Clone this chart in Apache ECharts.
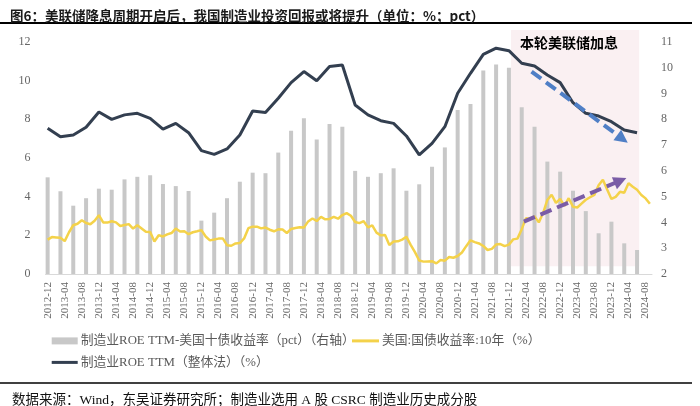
<!DOCTYPE html>
<html>
<head>
<meta charset="utf-8">
<script src="https://cdn.jsdelivr.net/npm/echarts@6/dist/echarts.min.js"></script>
<style>html,body{margin:0;padding:0;background:#fff;}#c{width:700px;height:406px;}</style>
</head>
<body>
<div id="c"></div>
<script>
// ---- data ----
const firstYear = 2012, firstMonth = 12, monthCount = 142; // 2012-12 .. 2024-09
const categories = [];
for (let i = 0; i < monthCount; i++) {
  const m = firstMonth - 1 + i;
  const y = firstYear + Math.floor(m / 12);
  const mm = (m % 12) + 1;
  categories.push(y + '-' + (mm < 10 ? '0' + mm : mm));
}
// quarterly (2012-12 .. 2024-06)
const roeSpread = [5.75,5.21,4.65,4.94,5.31,5.27,5.67,5.77,5.83,5.49,5.41,5.22,
  4.07,4.38,4.94,5.58,5.93,5.91,6.71,7.56,8.04,7.22,7.82,7.71,
  6.00,5.77,5.91,6.10,5.23,5.48,6.16,6.91,8.36,8.59,9.89,10.13,
  10.00,8.47,7.71,6.36,5.97,5.23,4.44,3.58,4.03,3.19,2.93];
const roe = [7.54,7.10,7.19,7.59,8.38,8.00,8.23,8.31,8.05,7.49,7.79,7.31,
  6.38,6.19,6.47,7.19,8.43,8.35,9.09,9.90,10.47,10.00,10.73,10.81,
  8.74,8.23,7.93,7.79,7.14,6.16,6.76,7.62,9.35,10.38,11.36,11.68,
  11.55,10.90,10.76,10.29,9.90,8.86,8.31,8.17,7.88,7.45,7.31];
// monthly (2012-12 .. 2024-09)
const ust10y = [1.78,
  1.91,1.89,1.87,1.70,2.16,2.52,2.60,2.78,2.64,2.57,2.75,3.04,
  2.67,2.66,2.73,2.67,2.48,2.53,2.58,2.35,2.52,2.35,2.18,2.17,
  1.68,2.00,1.94,2.05,2.12,2.35,2.20,2.21,2.06,2.16,2.21,2.27,
  1.94,1.74,1.78,1.83,1.84,1.49,1.46,1.58,1.60,1.84,2.37,2.45,
  2.45,2.36,2.40,2.29,2.21,2.31,2.30,2.12,2.33,2.38,2.42,2.40,
  2.72,2.87,2.74,2.95,2.83,2.85,2.96,2.86,3.05,3.15,3.01,2.69,
  2.63,2.73,2.41,2.51,2.14,2.00,2.02,1.50,1.68,1.69,1.78,1.92,
  1.51,1.13,0.70,0.64,0.65,0.66,0.55,0.72,0.69,0.88,0.84,0.93,
  1.11,1.44,1.74,1.65,1.58,1.45,1.24,1.30,1.52,1.55,1.44,1.52,
  1.79,1.83,2.32,2.89,2.85,2.98,2.67,3.15,3.83,4.10,3.68,3.88,
  3.52,3.92,3.48,3.44,3.64,3.84,3.97,4.09,4.59,4.88,4.37,3.88,
  3.99,4.25,4.20,4.69,4.51,4.36,4.09,3.91,3.63];
// annotation positions (month index / left-axis value)
const hikeStart = 108.5, hikeEnd = 138.5;
const roeArrow = [[113.3, 10.47], [134.6, 6.99]];
const yieldArrow = [[111.5, 2.71], [134.1, 4.83]];

const names = {
  bar: '制造业ROE TTM-美国十债收益率（pct）（右轴）',
  ust: '美国:国债收益率:10年（%）',
  roe: '制造业ROE TTM（整体法）（%）'
};

// map quarterly values to monthly slots
const barMonthly = categories.map(() => null);
const roeMonthly = categories.map(() => null);
roeSpread.forEach((v, q) => { barMonthly[q * 3] = v; });
roe.forEach((v, q) => { roeMonthly[q * 3] = v; });

const leftMax = 12.62;
const rightMax = 2 + leftMax * 0.75;
const serif = "'Liberation Serif','Noto Sans CJK SC'";
const cjk = "'Noto Sans CJK SC'";
const legendText = {fontSize: 12.8, color: '#595959', fontFamily: serif, padding: [0, 0, 0, -2]};

const chart = echarts.init(document.getElementById('c'), null, {renderer: 'canvas'});
chart.setOption({
  animation: false,
  backgroundColor: '#fff',
  title: [
    {text: '图6：美联储降息周期开启后，我国制造业投资回报或将提升（单位：%；pct）', left: 5, top: 4,
     textStyle: {fontSize: 13.5, fontWeight: 'bold', color: '#1a1a1a', fontFamily: cjk}},
    {text: '数据来源：Wind，东吴证券研究所；制造业选用 A 股 CSRC 制造业历史成分股', left: 7, top: 389,
     textStyle: {fontSize: 13.5, fontWeight: 'normal', color: '#111', fontFamily: serif}}
  ],
  graphic: [
    {type: 'line', shape: {x1: 0, y1: 23, x2: 692, y2: 23}, style: {stroke: '#000', lineWidth: 2}},
    {type: 'line', shape: {x1: 0, y1: 383, x2: 692, y2: 383}, style: {stroke: '#000', lineWidth: 1.5}}
  ],
  legend: [
    {data: [names.bar], left: 51.7, top: 334.5, padding: 0, icon: 'rect', itemWidth: 26, itemHeight: 7,
     textStyle: legendText},
    {data: [names.ust], left: 352, top: 334.5, padding: 0, icon: 'rect', itemWidth: 27, itemHeight: 3,
     textStyle: legendText},
    {data: [names.roe], left: 51.7, top: 356, padding: 0, icon: 'rect', itemWidth: 26, itemHeight: 3,
     textStyle: legendText}
  ],
  grid: {left: 45.5, right: 48, top: 30, bottom: 132},
  xAxis: [
    {type: 'category', data: categories, boundaryGap: true,
     axisLine: {lineStyle: {color: '#d9d9d9'}},
     axisTick: {interval: 3, length: 4, lineStyle: {color: '#d9d9d9'}},
     axisLabel: {interval: 3, rotate: 90, margin: 8, fontSize: 11, color: '#666', fontFamily: serif},
     splitLine: {show: false}},
    {type: 'value', min: -0.5, max: monthCount - 0.5, show: false}
  ],
  yAxis: [
    {type: 'value', min: 0, max: leftMax, interval: 2, splitLine: {show: false},
     axisLine: {show: false}, axisTick: {show: false},
     axisLabel: {showMaxLabel: false, margin: 15, fontSize: 12, color: '#666', fontFamily: serif}},
    {type: 'value', min: 2, max: rightMax, interval: 1, splitLine: {show: false},
     axisLine: {show: false}, axisTick: {show: false},
     axisLabel: {showMaxLabel: false, margin: 9, fontSize: 12, color: '#666', fontFamily: serif}}
  ],
  series: [
    {name: names.bar, type: 'bar', yAxisIndex: 1, data: barMonthly, barWidth: 4, clip: true,
     itemStyle: {color: '#c8c8c8'}, z: 2},
    {name: names.ust, type: 'line', yAxisIndex: 0, data: ust10y, symbol: 'none',
     lineStyle: {width: 2.5, color: '#f4d24a'}, itemStyle: {color: '#f4d24a'}, z: 3},
    {name: names.roe, type: 'line', yAxisIndex: 0, data: roeMonthly, connectNulls: true, symbol: 'none',
     lineStyle: {width: 3, color: '#333f50'}, itemStyle: {color: '#333f50'}, z: 4},
    {name: 'annot', type: 'line', xAxisIndex: 1, yAxisIndex: 0, data: [], symbol: 'none', silent: true,
     markArea: {silent: true, itemStyle: {color: '#faf0f2'},
       label: {show: true, position: 'insideTop', distance: 6, offset: [-6, 0], formatter: '本轮美联储加息',
               color: '#000', fontSize: 14, fontWeight: 'bold', fontFamily: cjk},
       data: [[{xAxis: hikeStart, yAxis: 0.4}, {xAxis: hikeEnd, yAxis: leftMax}]]},
     markLine: {silent: true, symbol: ['none', 'triangle'], symbolSize: [0, 13], label: {show: false},
       data: [
         [{coord: roeArrow[0], lineStyle: {color: '#4f7fc6', width: 4, type: [12, 6]}, symbolSize: 0},
          {coord: roeArrow[1], symbolSize: 13}],
         [{coord: yieldArrow[0], lineStyle: {color: '#7a5ca6', width: 4, type: [12, 6]}, symbolSize: 0},
          {coord: yieldArrow[1], symbolSize: 13}]
       ]}}
  ]
});
</script>
</body>
</html>
